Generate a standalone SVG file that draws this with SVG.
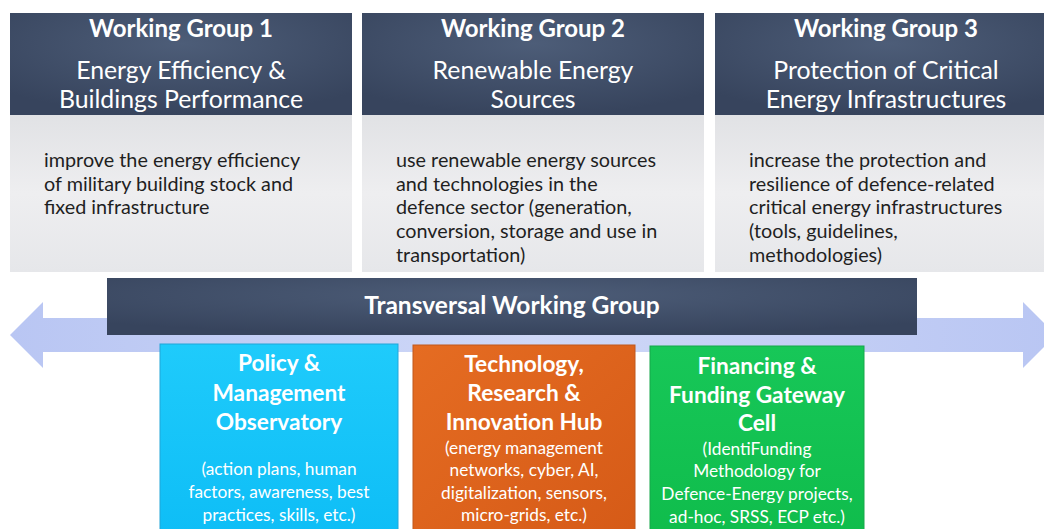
<svg xmlns="http://www.w3.org/2000/svg" width="1044" height="529" viewBox="0 0 1044 529">
  <defs>
    <radialGradient id="hdr" cx="0.5" cy="0.3" r="0.7">
      <stop offset="0" stop-color="#4d5d78"/>
      <stop offset="1" stop-color="#37445d"/>
    </radialGradient>
    <linearGradient id="body" x1="0" y1="0" x2="0" y2="1">
      <stop offset="0" stop-color="#e1e2e5"/>
      <stop offset="0.5" stop-color="#eeeef0"/>
      <stop offset="1" stop-color="#e6e7ea"/>
    </linearGradient>
    <linearGradient id="arrowFill" x1="0" y1="0" x2="1" y2="0">
      <stop offset="0" stop-color="#b9c6f3"/>
      <stop offset="0.5" stop-color="#cfd8f7"/>
      <stop offset="1" stop-color="#b9c6f3"/>
    </linearGradient>
    <linearGradient id="blue" x1="0" y1="0" x2="0" y2="1">
      <stop offset="0" stop-color="#1fcbfb"/>
      <stop offset="1" stop-color="#0dbdf6"/>
    </linearGradient>
    <linearGradient id="orange" x1="0" y1="0" x2="1" y2="1">
      <stop offset="0" stop-color="#e56c22"/>
      <stop offset="1" stop-color="#d55a17"/>
    </linearGradient>
    <linearGradient id="green" x1="0" y1="0" x2="0" y2="1">
      <stop offset="0" stop-color="#17c758"/>
      <stop offset="1" stop-color="#0fbc4b"/>
    </linearGradient>
    <style>
      .hdr { fill: url(#hdr); }
      .body { fill: url(#body); }
      .t { font-family: Lato, "Liberation Sans", sans-serif; }
      .h1 { font-size: 24px; font-weight: bold; fill: #ffffff; text-anchor: middle; }
      .h2 { font-size: 24.8px; fill: #ffffff; text-anchor: middle; }
      .tw { font-size: 24.5px; font-weight: bold; fill: #ffffff; text-anchor: middle; }
      .bt { font-size: 19.8px; fill: #1f1f1f; }
      .bx { font-size: 22.7px; font-weight: bold; fill: #ffffff; text-anchor: middle; }
      .sm { font-size: 17.3px; fill: #ffffff; text-anchor: middle; }
    </style>
  </defs>

  <rect width="1044" height="529" fill="#ffffff"/>

  <!-- Working group 1 -->
  <g id="wg1">
    <rect class="body" x="10" y="115" width="342" height="157"/>
    <rect class="hdr" x="10" y="13" width="342" height="102"/>
    <text class="t h1" x="181" y="37">Working Group 1</text>
    <text class="t h2" x="181" y="79">Energy Efficiency &amp;</text>
    <text class="t h2" x="181" y="108">Buildings Performance</text>
    <text class="t bt" x="44" y="167">improve the energy efficiency</text>
    <text class="t bt" x="44" y="191">of military building stock and</text>
    <text class="t bt" x="44" y="214">fixed infrastructure</text>
  </g>

  <!-- Working group 2 -->
  <g id="wg2">
    <rect class="body" x="362" y="115" width="342" height="157"/>
    <rect class="hdr" x="362" y="13" width="342" height="102"/>
    <text class="t h1" x="533" y="37">Working Group 2</text>
    <text class="t h2" x="533" y="79">Renewable Energy</text>
    <text class="t h2" x="533" y="108">Sources</text>
    <text class="t bt" x="396" y="167">use renewable energy sources</text>
    <text class="t bt" x="396" y="191">and technologies in the</text>
    <text class="t bt" x="396" y="214">defence sector (generation,</text>
    <text class="t bt" x="396" y="238">conversion, storage and use in</text>
    <text class="t bt" x="396" y="262">transportation)</text>
  </g>

  <!-- Working group 3 -->
  <g id="wg3">
    <rect class="body" x="715" y="115" width="345" height="157"/>
    <rect class="hdr" x="715" y="13" width="345" height="102"/>
    <text class="t h1" x="886" y="37">Working Group 3</text>
    <text class="t h2" x="886" y="79">Protection of Critical</text>
    <text class="t h2" x="886" y="108">Energy Infrastructures</text>
    <text class="t bt" x="749" y="167">increase the protection and</text>
    <text class="t bt" x="749" y="191">resilience of defence-related</text>
    <text class="t bt" x="749" y="214">critical energy infrastructures</text>
    <text class="t bt" x="749" y="238">(tools, guidelines,</text>
    <text class="t bt" x="749" y="262">methodologies)</text>
  </g>

  <!-- Double-headed arrow behind the transversal group -->
  <g id="connectors">
    <polygon fill="url(#arrowFill)" points="10,335 43,302 43,318 1023,318 1023,302 1056,335 1023,368 1023,352 43,352 43,368"/>
  </g>

  <!-- Transversal working group -->
  <g id="transversal">
    <rect class="hdr" x="107" y="278" width="810" height="57"/>
    <text class="t tw" x="512" y="314">Transversal Working Group</text>
  </g>

  <g id="policy">
    <rect x="160" y="344" width="238" height="200" fill="url(#blue)" stroke="#22a6d8" stroke-width="1"/>
    <text class="t bx" x="279" y="371">Policy &amp;</text>
    <text class="t bx" x="279" y="401">Management</text>
    <text class="t bx" x="279" y="430">Observatory</text>
    <text class="t sm" x="279" y="475">(action plans, human</text>
    <text class="t sm" x="279" y="498">factors, awareness, best</text>
    <text class="t sm" x="279" y="521">practices, skills, etc.)</text>
  </g>

  <g id="technology">
    <rect x="413" y="345" width="222" height="200" fill="url(#orange)" stroke="#c0581c" stroke-width="1"/>
    <text class="t bx" x="524" y="372">Technology,</text>
    <text class="t bx" x="524" y="401">Research &amp;</text>
    <text class="t bx" x="524" y="430">Innovation Hub</text>
    <text class="t sm" x="524" y="454">(energy management</text>
    <text class="t sm" x="524" y="476">networks, cyber, AI,</text>
    <text class="t sm" x="524" y="499">digitalization, sensors,</text>
    <text class="t sm" x="524" y="521">micro-grids, etc.)</text>
  </g>

  <g id="financing">
    <rect x="650" y="346" width="214" height="200" fill="url(#green)" stroke="#16a84a" stroke-width="1"/>
    <text class="t bx" x="757" y="374">Financing &amp;</text>
    <text class="t bx" x="757" y="403">Funding Gateway</text>
    <text class="t bx" x="757" y="431">Cell</text>
    <text class="t sm" x="757" y="455">(IdentiFunding</text>
    <text class="t sm" x="757" y="477">Methodology for</text>
    <text class="t sm" x="757" y="500">Defence-Energy projects,</text>
    <text class="t sm" x="757" y="523">ad-hoc, SRSS, ECP etc.)</text>
  </g>
</svg>
